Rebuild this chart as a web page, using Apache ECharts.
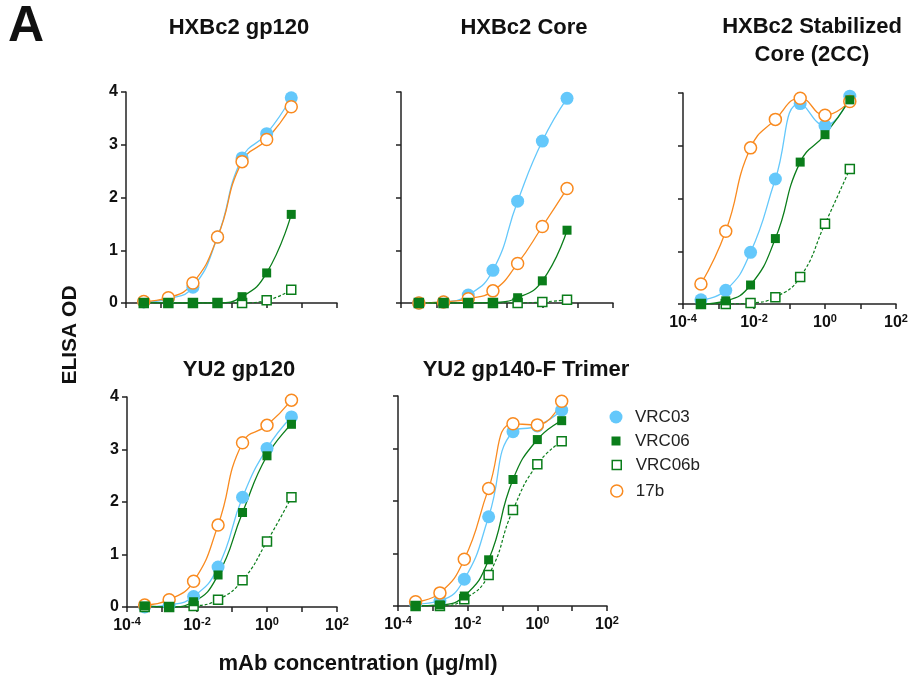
<!DOCTYPE html>
<html>
<head>
<meta charset="utf-8">
<script src="https://cdn.jsdelivr.net/npm/echarts@6/dist/echarts.min.js"></script>
<style>html,body{margin:0;background:#fff}#chart{width:909px;height:678px}</style>
</head>
<body>
<div id="chart"></div>
<script>
// concentrations (µg/ml), 5-fold dilutions
var conc = [0.00032, 0.0016, 0.008, 0.04, 0.2, 1, 5];
var panelTitles = ['HXBc2 gp120', 'HXBc2 Core', 'HXBc2 Stabilized\nCore (2CC)', 'YU2 gp120', 'YU2 gp140-F Trimer'];
var seriesNames = ['VRC03', 'VRC06', 'VRC06b', '17b'];

// ELISA OD per panel
var VRC03 = [
    [0.02, 0.08, 0.30, 1.25, 2.75, 3.21, 3.89],
    [0.00, 0.02, 0.15, 0.62, 1.93, 3.07, 3.88],
    [0.08, 0.26, 0.98, 2.37, 3.80, 3.38, 3.94],
    [0.00, 0.04, 0.20, 0.76, 2.09, 3.02, 3.62],
    [0.04, 0.10, 0.51, 1.70, 3.32, 3.43, 3.73]
];
var VRC06 = [
    [0.01, 0.00, 0.00, 0.00, 0.12, 0.57, 1.68],
    [0.00, 0.00, 0.00, 0.01, 0.10, 0.42, 1.38],
    [0.00, 0.06, 0.36, 1.24, 2.69, 3.21, 3.87],
    [0.02, 0.00, 0.10, 0.61, 1.80, 2.88, 3.48],
    [0.00, 0.02, 0.19, 0.88, 2.41, 3.17, 3.53]
];
var VRC06b = [
    [0.00, 0.00, 0.00, 0.00, 0.00, 0.05, 0.25],
    [0.00, 0.00, 0.00, 0.00, 0.00, 0.02, 0.06],
    [0.00, 0.00, 0.02, 0.13, 0.51, 1.52, 2.56],
    [0.00, 0.00, 0.02, 0.14, 0.51, 1.25, 2.09],
    [0.00, 0.00, 0.13, 0.59, 1.83, 2.70, 3.14]
];
var mAb17b = [
    [0.03, 0.10, 0.38, 1.25, 2.68, 3.10, 3.72],
    [0.00, 0.02, 0.08, 0.23, 0.75, 1.45, 2.17],
    [0.38, 1.38, 2.96, 3.50, 3.90, 3.58, 3.84],
    [0.04, 0.14, 0.49, 1.56, 3.13, 3.46, 3.94],
    [0.08, 0.25, 0.89, 2.24, 3.47, 3.45, 3.90]
];

var F = '"Liberation Sans", Arial, sans-serif';
var BLUE = '#64c8fb', GREEN = '#0a7d1a', ORANGE = '#f98a1f', AXIS = '#222';

var grids = [
    {left: 126, top: 92, width: 211, height: 211},
    {left: 401, top: 92, width: 212, height: 211},
    {left: 683, top: 93, width: 213, height: 211},
    {left: 127, top: 397, width: 210, height: 210},
    {left: 398, top: 396, width: 209, height: 210}
];
var showX = [false, false, true, true, true];
var showY = [true, false, false, true, false];

function pairs(arr) {
    return conc.map(function (c, i) { return [c, arr[i]]; });
}

var chart = echarts.init(document.getElementById('chart'));

var xAxes = [], yAxes = [], series = [];
grids.forEach(function (g, i) {
    g.outerBoundsMode = 'none';
    xAxes.push({
        type: 'log', logBase: 10, gridIndex: i, min: 0.0001, max: 100,
        axisLine: {lineStyle: {color: AXIS, width: 1.5}},
        axisTick: {show: true, length: 5, lineStyle: {color: AXIS, width: 1.5}},
        splitLine: {show: false},
        axisLabel: {
            show: showX[i], margin: 9,
            formatter: function (v) {
                var e = Math.round(Math.log10(v));
                if (e % 2 !== 0) return '';
                return '{b|10}{s|' + e + '}';
            },
            rich: {
                b: {fontSize: 16, fontWeight: 'bold', fontFamily: F, color: '#111'},
                s: {fontSize: 11, fontWeight: 'bold', fontFamily: F, color: '#111', padding: [0, 0, 9, 0]}
            }
        }
    });
    yAxes.push({
        type: 'value', gridIndex: i, min: 0, max: 4, interval: 1,
        axisLine: {show: true, lineStyle: {color: AXIS, width: 1.5}},
        axisTick: {show: true, length: 5, lineStyle: {color: AXIS, width: 1.5}},
        splitLine: {show: false},
        axisLabel: {show: showY[i], margin: 8, fontSize: 16, fontWeight: 'bold', fontFamily: F, color: '#111'}
    });

    series.push({
        name: 'VRC03', type: 'line', xAxisIndex: i, yAxisIndex: i, data: pairs(VRC03[i]),
        smooth: 0.5, symbol: 'circle', symbolSize: 13,
        itemStyle: {color: BLUE}, lineStyle: {color: BLUE, width: 1.3}
    });
    series.push({
        name: '17b', type: 'line', xAxisIndex: i, yAxisIndex: i, data: pairs(mAb17b[i]),
        smooth: 0.5, symbol: 'circle', symbolSize: 12,
        itemStyle: {color: '#fff', borderColor: ORANGE, borderWidth: 1.5}, lineStyle: {color: ORANGE, width: 1.3}
    });
    series.push({
        name: 'VRC06b', type: 'line', xAxisIndex: i, yAxisIndex: i, data: pairs(VRC06b[i]),
        smooth: 0.5, symbol: 'rect', symbolSize: 9,
        itemStyle: {color: '#fff', borderColor: GREEN, borderWidth: 1.5},
        lineStyle: {color: GREEN, width: 1.2, type: [3, 2]}
    });
    series.push({
        name: 'VRC06', type: 'line', xAxisIndex: i, yAxisIndex: i, data: pairs(VRC06[i]),
        smooth: 0.5, symbol: 'rect', symbolSize: 9,
        itemStyle: {color: GREEN}, lineStyle: {color: GREEN, width: 1.3}
    });
});

var titleCenters = [[234, 9], [519, 9], [807, 8], [234, 351], [521, 351]];
var titles = panelTitles.map(function (t, i) {
    return {
        text: t, left: titleCenters[i][0], top: titleCenters[i][1], textAlign: 'center',
        textStyle: {fontSize: 22, fontWeight: 'bold', fontFamily: F, color: '#111', lineHeight: 28}
    };
});
titles.push({text: 'A', left: 3, top: -3, textStyle: {fontSize: 50, fontWeight: 'bold', fontFamily: F, color: '#111'}});

// legend entries, one per row
var legendIcons = [
    {name: 'VRC03', icon: 'circle', size: 13, style: {color: BLUE}},
    {name: 'VRC06', icon: 'rect', size: 9, style: {color: GREEN}},
    {name: 'VRC06b', icon: 'rect', size: 9, style: {color: '#fff', borderColor: GREEN, borderWidth: 1.5}},
    {name: '17b', icon: 'circle', size: 12, style: {color: '#fff', borderColor: ORANGE, borderWidth: 1.5}}
];
var legendRows = [412, 436, 460, 486];
var legends = legendIcons.map(function (l, i) {
    return {
        left: 611 - l.size / 2, top: legendRows[i] - 10, itemWidth: l.size, itemHeight: l.size,
        selectedMode: false,
        data: [{name: l.name, icon: l.icon, itemStyle: l.style}],
        textStyle: {fontSize: 17, fontFamily: F, color: '#222', padding: [0, 0, 0, 14 - l.size / 2], lineHeight: 20}
    };
});

var option = {
    animation: false,
    backgroundColor: '#fff',
    title: titles,
    legend: legends,
    grid: grids,
    xAxis: xAxes,
    yAxis: yAxes,
    series: series,
    graphic: [
        {type: 'text', x: 60, y: 335, rotation: Math.PI / 2,
            style: {text: 'ELISA OD', fontSize: 21, fontWeight: 'bold', fontFamily: F, fill: '#111', align: 'center', verticalAlign: 'top'}},
        {type: 'text', x: 358, y: 664,
            style: {text: 'mAb concentration (µg/ml)', fontSize: 22, fontWeight: 'bold', fontFamily: F, fill: '#111', align: 'center', verticalAlign: 'middle'}}
    ]
};
chart.setOption(option);
</script>
</body>
</html>
